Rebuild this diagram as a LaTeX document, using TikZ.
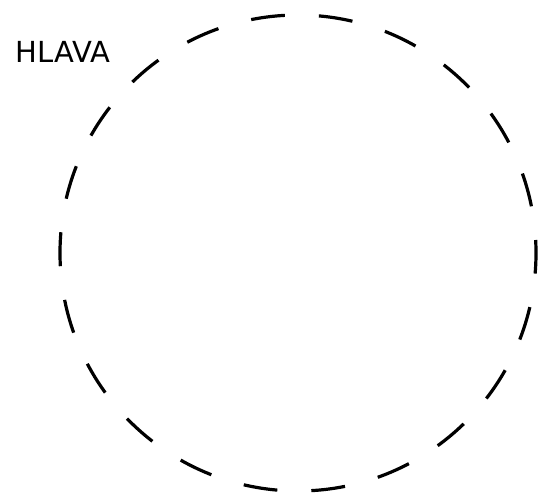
\documentclass[tikz,border=0pt]{standalone}
\usepackage{fontspec}
\newfontfamily\sketchfont{DejaVu Sans}
\usetikzlibrary{positioning}

\begin{document}
\begin{tikzpicture}[x=1pt, y=1pt, every node/.style={font=\sketchfont}]
  \useasboundingbox (0,0) rectangle (544,496);
  \node[circle, draw, line width=3.2pt, dash pattern=on 34pt off 34pt, dash phase=21pt, minimum size=476pt, inner sep=0pt] (head) at (298,243) {};
  \node[font=\sketchfont\fontsize{29}{32}\selectfont, inner sep=0pt] (headlabel) at (63,444) {HLAVA};
\end{tikzpicture}
\end{document}
